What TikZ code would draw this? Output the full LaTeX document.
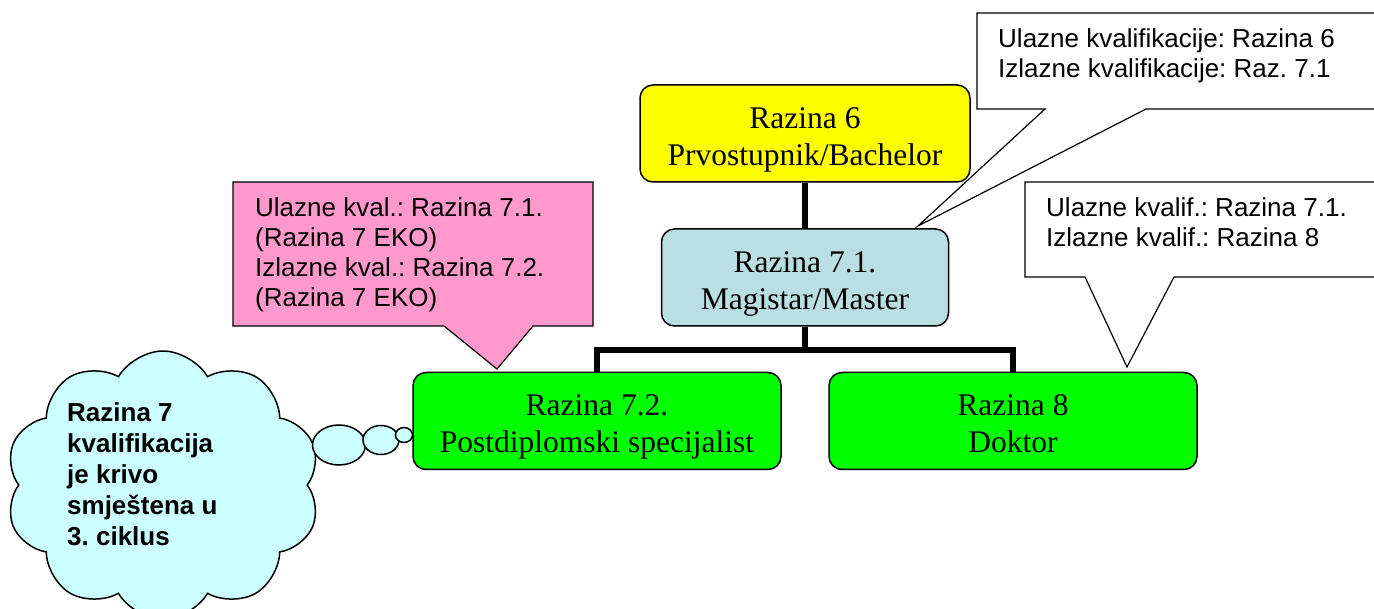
\documentclass[tikz,border=0pt]{standalone}
\usepackage{fontspec}
\setmainfont{Liberation Serif}
\setsansfont{Liberation Sans}
\usetikzlibrary{shapes.symbols,shapes.geometric,backgrounds}

\definecolor{razyellow}{RGB}{255,255,0}
\definecolor{razblue}{RGB}{186,223,226}
\definecolor{razgreen}{RGB}{0,255,0}
\definecolor{notepink}{RGB}{255,153,204}
\definecolor{cloudcyan}{RGB}{204,255,255}

\begin{document}
\frenchspacing
\begin{tikzpicture}[x=1pt,y=-1pt,
  razbox/.style={draw,line width=1.5pt,rounded corners=13pt,minimum height=97pt,
    inner sep=0pt,align=center,text height=70pt,text depth=6pt,
    font=\fontsize{31.5}{37}\selectfont},
  notetext/.style={anchor=base west,inner sep=0pt,align=left,
    font=\sffamily\fontsize{26}{30}\selectfont},
  cloudtext/.style={anchor=base west,inner sep=0pt,align=left,
    font=\sffamily\bfseries\fontsize{26}{31}\selectfont},
  tipbox/.style={draw,line width=1.2pt},
  puff/.style={ellipse,draw,fill=cloudcyan,line width=1.5pt,inner sep=0pt},
  link/.style={line width=5.5pt}]

  \useasboundingbox (0,0) rectangle (1374,609);

  %% callouts
  \draw[tipbox,fill=notepink] (233,182) -- (593,182) -- (593,326) -- (533,326)
    -- (497,369) -- (444,326) -- (233,326) -- cycle;
  \draw[tipbox,fill=white] (977,13) -- (1390,13) -- (1390,109) -- (1146,109)
    -- (918,226) -- (1045,109) -- (977,109) -- cycle;
  \draw[tipbox,fill=white] (1025,182) -- (1390,182) -- (1390,277) -- (1174,277)
    -- (1127,367) -- (1085,277) -- (1025,277) -- cycle;

  %% text anchored on the last line
  \node[notetext] (kval72) at (255,307)
    {Ulazne kval.: Razina 7.1.\\(Razina 7 EKO)\\Izlazne kval.: Razina 7.2.\\(Razina 7 EKO)};
  \node[notetext] (kval71) at (998,78)
    {Ulazne kvalifikacije: Razina 6\\Izlazne kvalifikacije: Raz. 7.1};
  \node[notetext] (kval8) at (1046,247)
    {Ulazne kvalif.: Razina 7.1.\\Izlazne kvalif.: Razina 8};

  %% cloud
  \node[cloud,draw,fill=cloudcyan,line width=1.5pt,cloud puffs=10,cloud puff arc=120,
    cloud ignores aspect,minimum width=315pt,minimum height=268pt] (cloud) at (163,485) {};
  \node[cloudtext] (cloudnote) at (67,545)
    {Razina 7\\kvalifikacija\\je krivo\\smještena u\\3. ciklus};
  \node[puff,minimum width=53pt,minimum height=40pt] (puffa) at (339,445) {};
  \node[puff,minimum width=36pt,minimum height=29pt] (puffb) at (381,440) {};
  \node[puff,minimum width=17pt,minimum height=15pt] (puffc) at (404,435) {};

  %% levels
  \node[razbox,fill=razyellow,minimum width=330pt] (raz6) at (805,133.5)
    {Razina 6\\Prvostupnik/Bachelor};
  \node[razbox,fill=razblue,minimum width=287pt] (raz71) at (805,277.5)
    {Razina 7.1.\\Magistar/Master};
  \node[razbox,fill=razgreen,minimum width=368pt] (raz72) at (597,421)
    {Razina 7.2.\\Postdiplomski specijalist};
  \node[razbox,fill=razgreen,minimum width=368pt] (raz8) at (1013,421)
    {Razina 8\\Doktor};

  \begin{scope}[on background layer]
    \coordinate (fork) at (805,350);
    \draw[link] (raz6.south) -- (raz71.north);
    \draw[link] (raz71.south) -- (fork);
    \draw[link] (raz72.north) |- (fork) -| (raz8.north);
  \end{scope}

\end{tikzpicture}
\end{document}
